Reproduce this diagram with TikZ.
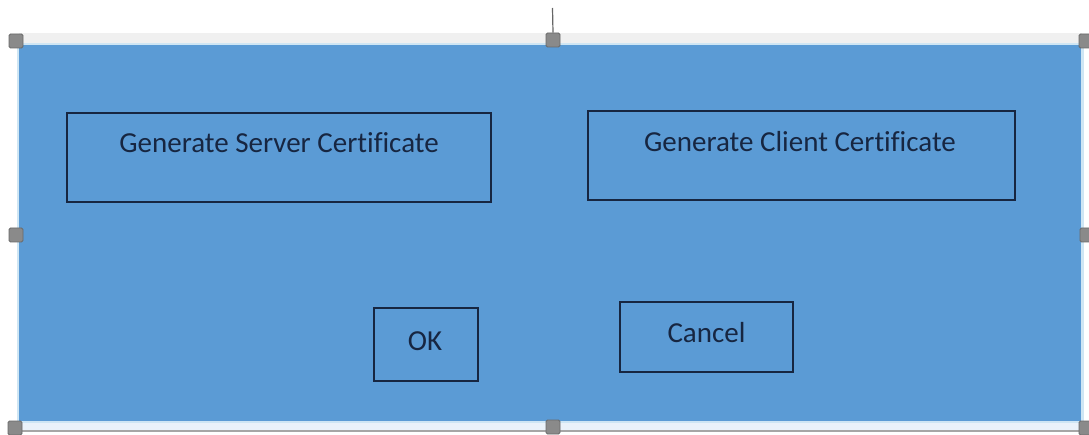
\documentclass[tikz,border=0pt]{standalone}
\usepackage{fontspec}
\setmainfont{Carlito}[Ligatures=NoCommon]
\definecolor{panel}{HTML}{5B9BD5}
\definecolor{ink}{HTML}{172641}
\definecolor{handlefill}{HTML}{8A8A8A}
\definecolor{handleedge}{HTML}{6A6A6A}
\definecolor{frameband}{HTML}{F0F0F0}
\definecolor{edgeglow}{HTML}{CFE6F4}
\definecolor{lowband}{HTML}{EAF2FA}
\tikzset{
  btn/.style={draw=ink, line width=1.8pt, fill=none, inner sep=0pt},
  btntext/.style={text=ink, font=\fontsize{29}{35}\selectfont, inner sep=0pt},
  handle/.style={draw=handleedge, fill=handlefill, line width=0.8pt,
    minimum size=14pt, inner sep=0pt, rounded corners=1.5pt},
}
\begin{document}
\begin{tikzpicture}[x=1pt, y=-1pt]
\useasboundingbox (0,0) rectangle (1089,435);
\fill[white] (0,0) rectangle (1089,435);

% selection frame around the panel
\fill[frameband] (19,33) rectangle (1082,43);
\fill[lowband] (19,421) rectangle (1082,430);
\fill[black!35] (19,430) rectangle (1082,432);
\fill[edgeglow] (17,43) rectangle (1084,423);

% the dialog panel
\fill[panel] (19,45) rectangle (1081,421);

% buttons
\node[btn, minimum width=424pt, minimum height=89pt] (srv) at (279,157.5) {};
\node[btntext] at ([yshift=14.5pt]srv.center) {Generate Server Certificate};

\node[btn, minimum width=427pt, minimum height=89pt] (cli) at (801.5,155.5) {};
\node[btntext] at ([xshift=-1.5pt, yshift=13.5pt]cli.center) {Generate Client Certificate};

\node[btn, minimum width=104pt, minimum height=73pt] (ok) at (426,344.5) {};
\node[btntext] at ([xshift=-1pt, yshift=3.5pt]ok.center) {OK};

\node[btn, minimum width=173pt, minimum height=70pt] (cancel) at (706.5,337) {};
\node[btntext] at ([yshift=4pt]cancel.center) {Cancel};

% rotation stem and sizing handles
\coordinate (rot) at (552.5,8);
\node[handle] (hn) at (553,40) {};
\draw[black!60, line width=1.2pt] (hn.north) -- (rot);
\node[handle] (hnw) at (16,41) {};
\node[handle] (hne) at (1086,41) {};
\node[handle] (hw) at (16,235) {};
\node[handle] (he) at (1087,235) {};
\node[handle] (hsw) at (15,428) {};
\node[handle] (hs) at (553,427) {};
\node[handle] (hse) at (1086,428) {};
\end{tikzpicture}
\end{document}
